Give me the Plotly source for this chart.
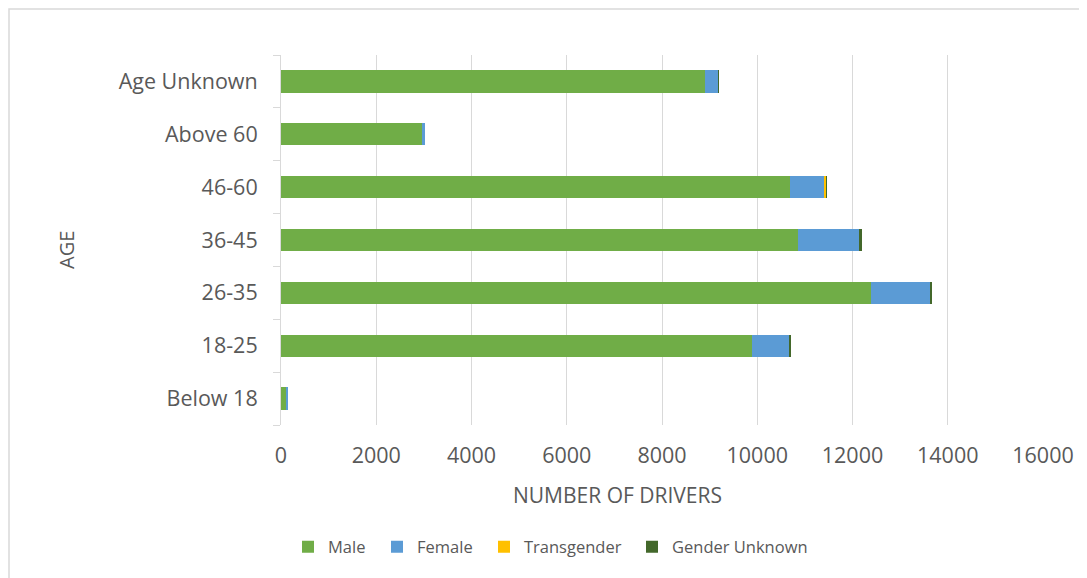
import plotly.graph_objects as go

# age groups, bottom to top
ages = ["Below 18", "18-25", "26-35", "36-45", "46-60", "Above 60", "Age Unknown"]

male = [120, 9900, 12380, 10860, 10690, 2980, 8900]
female = [30, 780, 1260, 1290, 730, 40, 280]
transgender = [0, 5, 5, 5, 35, 0, 0]
gender_unknown = [0, 5, 20, 35, 5, 0, 15]

series = [
    ("Male", male, "#70AD47"),
    ("Female", female, "#5B9BD5"),
    ("Transgender", transgender, "#FFC000"),
    ("Gender Unknown", gender_unknown, "#43682B"),
]

font = "Open Sans"
grey_text = "#595959"
grid = "#D9D9D9"


# page pixel -> paper coords (page has an 8px body margin)
def px_x(px):
    return (px - 281) / 762


def px_y(py):
    return (425 - py) / 370


# where each legend entry's text starts in the reference
legend_text_x = [328, 417, 524, 672]

fig = go.Figure()
layout_legends = {}
for i, (name, vals, color) in enumerate(series):
    key = f"legend{i + 2}"
    fig.add_trace(go.Bar(
        y=ages, x=vals, name=name, orientation="h",
        marker=dict(color=color, line=dict(width=0)),
        legend=key,
    ))
    layout_legends[key] = dict(
        x=px_x(legend_text_x[i] - 40), xanchor="left",
        y=px_y(547), yanchor="middle",
        font=dict(size=16.5, color=grey_text),
        itemwidth=30, bgcolor="rgba(0,0,0,0)",
    )

fig.update_layout(
    barmode="stack",
    bargap=0.58,
    width=1079, height=570,
    margin=dict(l=273, r=44, t=47, b=153),
    plot_bgcolor="white",
    paper_bgcolor="white",
    font=dict(family=font, color=grey_text),
    xaxis=dict(
        range=[0, 16000], dtick=2000, tickformat="d",
        showgrid=True, gridcolor=grid, gridwidth=1,
        zeroline=False, showline=False, ticks="",
        tickfont=dict(size=21.5, color=grey_text),
        ticklabelstandoff=15,
    ),
    yaxis=dict(
        showline=True, linecolor=grid, linewidth=1,
        ticks="outside", ticklen=7, tickcolor=grid,
        tickson="boundaries",
        tickfont=dict(size=21.5, color=grey_text),
        ticklabelstandoff=18,
    ),
    annotations=[
        dict(text="NUMBER OF DRIVERS", x=px_x(617), y=px_y(495),
             xref="paper", yref="paper",
             xanchor="center", yanchor="middle", showarrow=False,
             font=dict(size=21, color=grey_text)),
        dict(text="AGE", x=px_x(67), y=px_y(250),
             xref="paper", yref="paper", textangle=-90,
             xanchor="center", yanchor="middle", showarrow=False,
             font=dict(size=20, color=grey_text)),
    ],
    shapes=[
        dict(type="rect", xref="paper", yref="paper",
             x0=px_x(9), x1=2, y0=-2, y1=px_y(9),
             line=dict(color=grid, width=1.5), fillcolor="rgba(0,0,0,0)",
             layer="below"),
    ],
    **layout_legends,
)

fig.write_html("out.html")
